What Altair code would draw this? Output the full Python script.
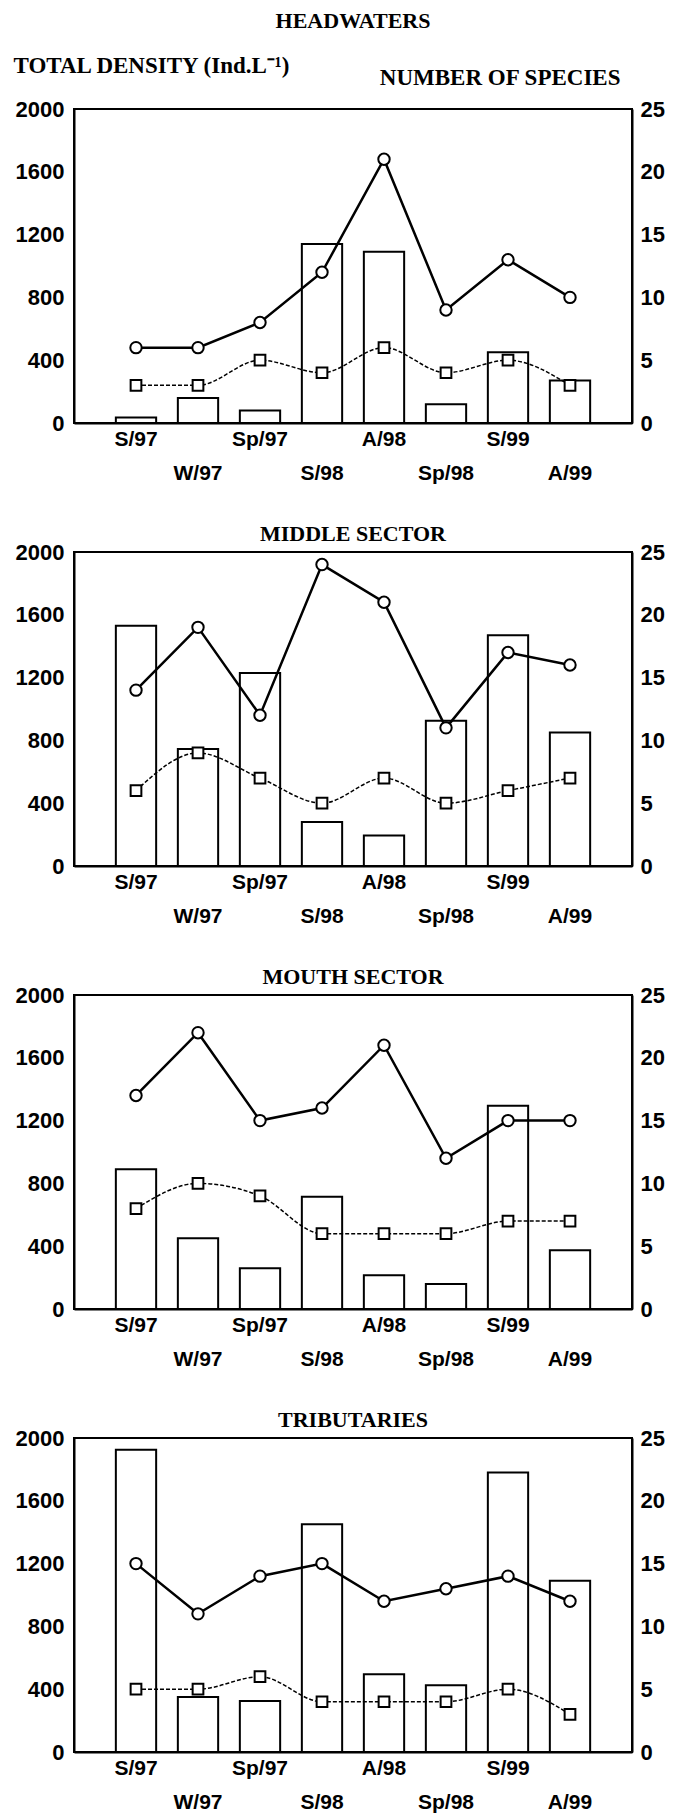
import altair as alt
import pandas as pd

seasons = ["S/97", "W/97", "Sp/97", "S/98", "A/98", "Sp/98", "S/99", "A/99"]
sectors = ["HEADWATERS", "MIDDLE SECTOR", "MOUTH SECTOR", "TRIBUTARIES"]

# total density (Ind. L-1), bars, left axis
density_headwaters = [35, 160, 80, 1140, 1090, 120, 450, 270]
density_middle = [1530, 745, 1230, 280, 195, 925, 1470, 850]
density_mouth = [890, 450, 260, 715, 215, 160, 1295, 375]
density_tributaries = [1925, 350, 325, 1450, 495, 425, 1780, 1090]

# number of species, circle series (right axis)
circles_headwaters = [6, 6, 8, 12, 21, 9, 13, 10]
circles_middle = [14, 19, 12, 24, 21, 11, 17, 16]
circles_mouth = [17, 22, 15, 16, 21, 12, 15, 15]
circles_tributaries = [15, 11, 14, 15, 12, 13, 14, 12]

# number of species, square series (right axis)
squares_headwaters = [3, 3, 5, 4, 6, 4, 5, 3]
squares_middle = [6, 9, 7, 5, 7, 5, 6, 7]
squares_mouth = [8, 10, 9, 6, 6, 6, 7, 7]
squares_tributaries = [5, 5, 6, 4, 4, 4, 5, 3]

density = [density_headwaters, density_middle, density_mouth, density_tributaries]
circles = [circles_headwaters, circles_middle, circles_mouth, circles_tributaries]
squares = [squares_headwaters, squares_middle, squares_mouth, squares_tributaries]

SANS = "Liberation Sans"
SERIF = "Liberation Serif"
lower = seasons[1::2]
label_expr = (
    "indexof([" + ",".join("'%s'" % s for s in lower) + "], datum.value) >= 0"
    " ? ['', datum.value] : datum.value"
)

W, H = 558, 314


def panel(i):
    first = i == 0
    dfb = pd.DataFrame({"season": seasons, "density": density[i]})
    dfl = pd.DataFrame(
        {"season": seasons * 2,
         "kind": ["circle"] * 8 + ["square"] * 8,
         "n": circles[i] + squares[i]}
    )
    xaxis = alt.Axis(
        labelAngle=0, labelExpr=label_expr, labelLineHeight=34, labelPadding=5,
        ticks=False, grid=False, title=None, labelFont=SANS, labelFontSize=21,
        labelFontWeight="bold", labelColor="black", domainColor="black",
        domainWidth=2, labelOverlap=False, labelBound=False,
    )
    x = alt.X("season:N", sort=seasons,
              scale=alt.Scale(paddingInner=0.35, paddingOuter=0.675), axis=xaxis)
    left_axis = alt.Axis(
        values=[0, 400, 800, 1200, 1600, 2000], format="d", ticks=False, grid=False,
        labelFont=SANS, labelFontSize=22, labelFontWeight="bold", labelColor="black",
        labelPadding=10, domainColor="black", domainWidth=2,
        title="TOTAL DENSITY (Ind.L⁻¹)" if first else None,
        titleAngle=0, titleX=-61, titleY=-37, titleAlign="left",
        titleBaseline="alphabetic", titleFont=SERIF, titleFontSize=23,
        titleFontWeight="bold", titleColor="black",
    )
    right_axis = alt.Axis(
        orient="right", values=[0, 5, 10, 15, 20, 25], format="d", ticks=False,
        grid=False, labelFont=SANS, labelFontSize=22, labelFontWeight="bold",
        labelColor="black", labelPadding=8, domainColor="black", domainWidth=2,
        title="NUMBER OF SPECIES" if first else None,
        titleAngle=0, titleX=-12, titleY=-25, titleAlign="right",
        titleBaseline="alphabetic", titleFont=SERIF, titleFontSize=23,
        titleFontWeight="bold", titleColor="black",
    )
    bars = alt.Chart(dfb).mark_bar(fill="white", stroke="black", strokeWidth=2).encode(
        x=x,
        y=alt.Y("density:Q", scale=alt.Scale(domain=[0, 2000]), axis=left_axis),
    )
    base = alt.Chart(dfl).encode(
        x=x,
        y=alt.Y("n:Q", scale=alt.Scale(domain=[0, 25]), axis=right_axis),
    )
    circ = base.transform_filter(alt.datum.kind == "circle")
    sq = base.transform_filter(alt.datum.kind == "square")
    circ_line = circ.mark_line(color="black", strokeWidth=2.5)
    sq_line = sq.mark_line(color="black", strokeWidth=1.5, strokeDash=[4, 2],
                           interpolate="monotone")
    circ_pts = circ.mark_point(shape="circle", filled=True, fill="white",
                               stroke="black", strokeWidth=2, size=130, opacity=1)
    sq_pts = sq.mark_point(shape="square", filled=True, fill="white",
                           stroke="black", strokeWidth=2, size=115, opacity=1)
    lines = alt.layer(sq_line, circ_line, sq_pts, circ_pts)
    return alt.layer(bars, lines).resolve_scale(y="independent").properties(
        width=W, height=H,
        title=alt.Title(sectors[i], font=SERIF, fontSize=22, fontWeight="bold",
                        color="black", anchor="middle", offset=21 if first else -5),
    )


chart = alt.vconcat(*[panel(i) for i in range(4)], spacing=38).properties(
    padding={"left": 4, "top": 1, "right": 5, "bottom": 0},
    background="white",
).configure_view(stroke="black", strokeWidth=2)

chart.save("out.html", embed_options={"renderer": "svg", "actions": False})
